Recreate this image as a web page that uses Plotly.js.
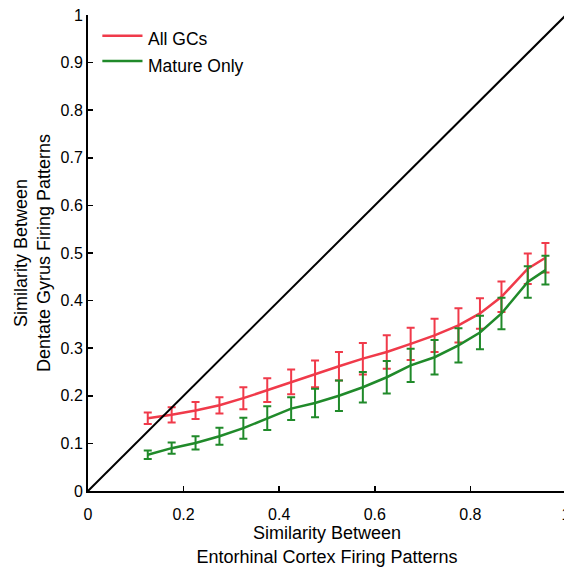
<!DOCTYPE html>
<html>
<head>
<meta charset="utf-8">
<script src="https://cdn.plot.ly/plotly-3.0.1.min.js"></script>
<style>
  html, body { margin: 0; padding: 0; overflow: hidden; background: #fff; }
  #chart { width: 600px; height: 567px; }
</style>
</head>
<body>
<div id="chart"></div>
<script>
// Bin centres of entorhinal-cortex similarity
const ecSimilarity = [0.125, 0.175, 0.225, 0.275, 0.325, 0.375, 0.425, 0.475, 0.525,
                      0.575, 0.625, 0.675, 0.725, 0.775, 0.82, 0.865, 0.92, 0.957];

// Dentate gyrus similarity, all granule cells (mean and error)
const allGCs = [0.153, 0.160, 0.169, 0.180, 0.195, 0.212, 0.229, 0.246, 0.262,
                0.278, 0.292, 0.309, 0.327, 0.348, 0.373, 0.408, 0.467, 0.490];
const allGCsErr = [0.012, 0.016, 0.018, 0.017, 0.023, 0.025, 0.026, 0.028, 0.030,
                   0.033, 0.035, 0.034, 0.035, 0.036, 0.032, 0.032, 0.032, 0.031];

// Dentate gyrus similarity, mature granule cells only (mean and error)
const matureOnly = [0.076, 0.090, 0.101, 0.115, 0.132, 0.153, 0.173, 0.185, 0.200,
                    0.218, 0.239, 0.264, 0.281, 0.306, 0.333, 0.373, 0.439, 0.464];
const matureOnlyErr = [0.009, 0.012, 0.014, 0.018, 0.022, 0.025, 0.024, 0.030, 0.032,
                       0.032, 0.034, 0.035, 0.036, 0.036, 0.035, 0.033, 0.033, 0.030];

// Identity line
const identity = [0, 1];

const seriesNames = ['All GCs', 'Mature Only'];
const RED = '#f03a4a';
const GREEN = '#208a2a';

const traces = [
  {
    x: ecSimilarity, y: allGCs, name: seriesNames[0], type: 'scatter', mode: 'lines',
    line: { color: RED, width: 2.5 },
    error_y: { type: 'data', array: allGCsErr, visible: true, color: RED, thickness: 2, width: 4 },
    showlegend: false
  },
  {
    x: ecSimilarity, y: matureOnly, name: seriesNames[1], type: 'scatter', mode: 'lines',
    line: { color: GREEN, width: 2.5 },
    error_y: { type: 'data', array: matureOnlyErr, visible: true, color: GREEN, thickness: 2, width: 4 },
    showlegend: false
  },
  {
    x: identity, y: identity, type: 'scatter', mode: 'lines',
    line: { color: '#000', width: 2 }, showlegend: false, hoverinfo: 'skip'
  }
];

const FONT = 'Liberation Sans, Arial, sans-serif';

// Hand-placed key in the upper-left corner
const keyColors = [RED, GREEN];
const keyLineY = [0.9565, 0.9034];
const keyTextY = [0.9496, 0.8929];
const shapes = keyColors.map((c, i) => ({
  type: 'line', xref: 'paper', yref: 'paper',
  x0: 0.03, x1: 0.114, y0: keyLineY[i], y1: keyLineY[i],
  line: { color: c, width: 2.5 }
}));
const annotations = seriesNames.map((n, i) => ({
  text: n, xref: 'paper', yref: 'paper', x: 0.122, y: keyTextY[i],
  xanchor: 'left', yanchor: 'middle', showarrow: false,
  font: { family: FONT, size: 17.5, color: '#000' }
}));

const layout = {
  width: 600, height: 567,
  margin: { l: 88, r: 34, t: 15, b: 76 },
  paper_bgcolor: '#fff', plot_bgcolor: '#fff',
  font: { family: FONT, size: 15, color: '#000' },
  showlegend: false,
  xaxis: {
    range: [0, 1], dtick: 0.2, tick0: 0,
    showgrid: false, zeroline: false,
    showline: true, linecolor: '#000', linewidth: 2,
    ticks: 'inside', ticklen: 5, tickwidth: 1.5, tickcolor: '#000',
    tickfont: { family: FONT, size: 16 },
    ticklabelstandoff: 8,
    title: { text: 'Similarity Between<br>Entorhinal Cortex Firing Patterns',
             font: { family: FONT, size: 18 }, standoff: 1 }
  },
  yaxis: {
    range: [0, 1], dtick: 0.1, tick0: 0,
    showgrid: false, zeroline: false,
    showline: true, linecolor: '#000', linewidth: 2,
    ticks: 'inside', ticklen: 5, tickwidth: 1.5, tickcolor: '#000',
    tickfont: { family: FONT, size: 16 },
    title: { text: 'Similarity Between<br>Dentate Gyrus Firing Patterns',
             font: { family: FONT, size: 18 }, standoff: 5 }
  },
  shapes: shapes,
  annotations: annotations
};

Plotly.newPlot('chart', traces, layout, { displayModeBar: false, staticPlot: true });
</script>
</body>
</html>
